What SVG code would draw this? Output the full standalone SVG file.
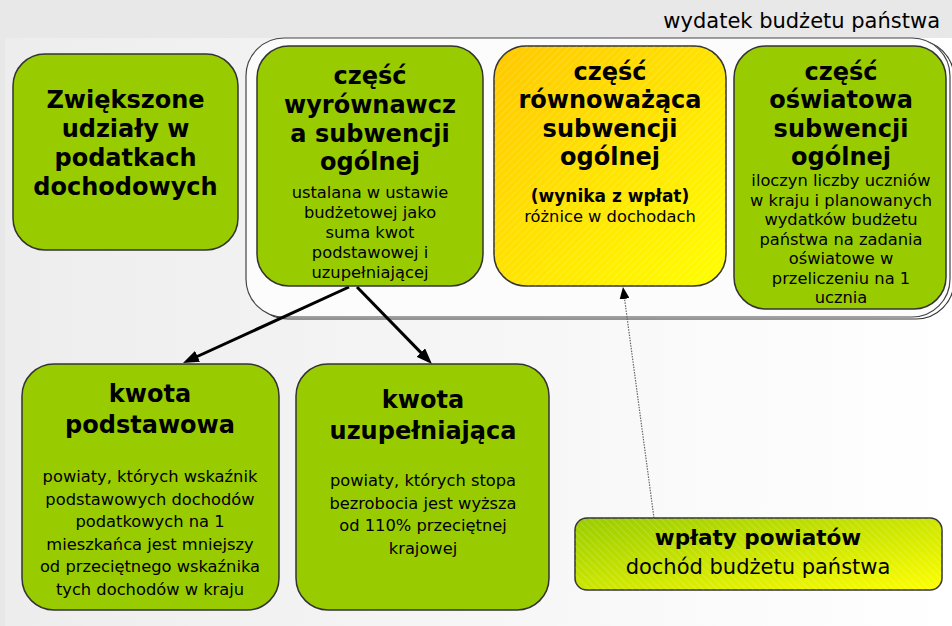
<svg xmlns="http://www.w3.org/2000/svg" width="952" height="626" viewBox="0 0 952 626">
<defs>
<style>
.box{fill:#99cc00;stroke:#333;stroke-width:1.5}
.t{font-family:"DejaVu Sans",Verdana,sans-serif;fill:#000;text-anchor:middle}
.h{font-weight:bold;font-size:24px}
.b{font-size:16.3px}
.arrow{stroke:#000;stroke-width:3;fill:none}
.dot{stroke:#666;stroke-width:1.2;stroke-dasharray:1.5 1.2;fill:none}
</style>
<linearGradient id="bg" x1="0" y1="0" x2="1" y2="0">
<stop offset="0" stop-color="#ededed"/>
<stop offset="1" stop-color="#ffffff"/>
</linearGradient>
<linearGradient id="yg" x1="0" y1="0" x2="1" y2="1">
<stop offset="0" stop-color="#ffc800"/>
<stop offset="1" stop-color="#ffff00"/>
</linearGradient>
<linearGradient id="gy" x1="0" y1="0" x2="1" y2="1">
<stop offset="0" stop-color="#99cc00"/>
<stop offset="1" stop-color="#ffff00"/>
</linearGradient>
<pattern id="hatch" width="5" height="5" patternUnits="userSpaceOnUse" patternTransform="rotate(45)">
<line x1="0" y1="0" x2="0" y2="5" stroke="#ffffff" stroke-opacity="0.3" stroke-width="1"/>
</pattern>
<pattern id="hatch2" width="5" height="5" patternUnits="userSpaceOnUse" patternTransform="rotate(-45)">
<line x1="0" y1="0" x2="0" y2="5" stroke="#ffffff" stroke-opacity="0.3" stroke-width="1"/>
</pattern>
<marker id="ah" viewBox="0 0 16 12" refX="4" refY="6" markerWidth="16" markerHeight="12" markerUnits="userSpaceOnUse" orient="auto">
<path d="M0,0 L16,6 L0,12 z" fill="#000"/>
</marker>
<marker id="ah2" viewBox="0 0 12 10" refX="2" refY="5" markerWidth="12" markerHeight="10" markerUnits="userSpaceOnUse" orient="auto">
<path d="M0,0 L12,5 L0,10 z" fill="#000"/>
</marker>
</defs>

<rect width="952" height="626" fill="#e8e8e8"/>
<rect x="5" y="38" width="947" height="588" fill="url(#bg)"/>

<text class="t" x="940" y="28" style="text-anchor:end;font-size:21px">wydatek budżetu państwa</text>

<g id="container">
<rect x="250" y="40" width="704" height="279" rx="38" fill="none" stroke="#333" stroke-width="1.2"/>
<rect x="246" y="38" width="704" height="279" rx="38" fill="#fcfcfc" stroke="#444" stroke-width="1.2"/>
</g>

<g id="connectors">
<line class="arrow" x1="349" y1="287" x2="193.9" y2="358" marker-end="url(#ah)"/>
<line class="arrow" x1="357" y1="287" x2="423.6" y2="355.4" marker-end="url(#ah)"/>
<line class="dot" x1="654" y1="518" x2="624.3" y2="296.9" marker-end="url(#ah2)"/>
</g>

<g id="udzialy">
<rect class="box" x="13" y="54" width="225" height="196" rx="32"/>
<text class="t h" x="125.5" y="108">Zwiększone</text>
<text class="t h" x="125.5" y="137">udziały w</text>
<text class="t h" x="125.5" y="166">podatkach</text>
<text class="t h" x="125.5" y="195">dochodowych</text>
</g>

<g id="wyrownawcza">
<rect class="box" x="257" y="46" width="226" height="240" rx="32"/>
<text class="t h" x="370" y="84">część</text>
<text class="t h" x="370" y="113">wyrównawcz</text>
<text class="t h" x="370" y="142">a subwencji</text>
<text class="t h" x="370" y="170">ogólnej</text>
<text class="t b" x="370" y="198">ustalana w ustawie</text>
<text class="t b" x="370" y="218">budżetowej jako</text>
<text class="t b" x="370" y="238">suma kwot</text>
<text class="t b" x="370" y="258">podstawowej i</text>
<text class="t b" x="370" y="278">uzupełniającej</text>
</g>

<g id="rownowazaca">
<rect x="494" y="46" width="232" height="240" rx="32" fill="url(#yg)" stroke="#333" stroke-width="1.5"/>
<rect x="494" y="46" width="232" height="240" rx="32" fill="url(#hatch)"/>
<text class="t h" x="610" y="80">część</text>
<text class="t h" x="610" y="108">równoważąca</text>
<text class="t h" x="610" y="137">subwencji</text>
<text class="t h" x="610" y="165">ogólnej</text>
<text class="t" x="610" y="202" style="font-weight:bold;font-size:17px">(wynika z wpłat)</text>
<text class="t b" x="610" y="222">różnice w dochodach</text>
</g>

<g id="oswiatowa">
<rect class="box" x="734" y="46" width="212" height="263" rx="32"/>
<text class="t h" x="841" y="80">część</text>
<text class="t h" x="841" y="108">oświatowa</text>
<text class="t h" x="841" y="137">subwencji</text>
<text class="t h" x="841" y="165">ogólnej</text>
<text class="t b" x="841" y="186">iloczyn liczby uczniów</text>
<text class="t b" x="841" y="205.5">w kraju i planowanych</text>
<text class="t b" x="841" y="225">wydatków budżetu</text>
<text class="t b" x="841" y="244.5">państwa na zadania</text>
<text class="t b" x="841" y="264">oświatowe w</text>
<text class="t b" x="841" y="283.5">przeliczeniu na 1</text>
<text class="t b" x="841" y="303">ucznia</text>
</g>

<g id="podstawowa">
<rect class="box" x="22" y="364" width="257" height="246" rx="32"/>
<text class="t h" x="150" y="402">kwota</text>
<text class="t h" x="150" y="433">podstawowa</text>
<text class="t b" x="150" y="482">powiaty, których wskaźnik</text>
<text class="t b" x="150" y="504.5">podstawowych dochodów</text>
<text class="t b" x="150" y="527">podatkowych na 1</text>
<text class="t b" x="150" y="549.5">mieszkańca jest mniejszy</text>
<text class="t b" x="150" y="572">od przeciętnego wskaźnika</text>
<text class="t b" x="150" y="594.5">tych dochodów w kraju</text>
</g>

<g id="uzupelniajaca">
<rect class="box" x="296" y="364" width="253" height="246" rx="32"/>
<text class="t h" x="423" y="408">kwota</text>
<text class="t h" x="423" y="439">uzupełniająca</text>
<text class="t b" x="423" y="486">powiaty, których stopa</text>
<text class="t b" x="423" y="508.5">bezrobocia jest wyższa</text>
<text class="t b" x="423" y="531">od 110% przeciętnej</text>
<text class="t b" x="423" y="553.5">krajowej</text>
</g>

<g id="wplaty">
<rect x="575" y="518" width="367" height="72" rx="12" fill="url(#gy)" stroke="#333" stroke-width="1.5"/>
<rect x="575" y="518" width="367" height="72" rx="12" fill="url(#hatch2)"/>
<text class="t" x="758" y="545" style="font-weight:bold;font-size:21.5px">wpłaty powiatów</text>
<text class="t" x="758" y="574" style="font-size:21px">dochód budżetu państwa</text>
</g>
</svg>
